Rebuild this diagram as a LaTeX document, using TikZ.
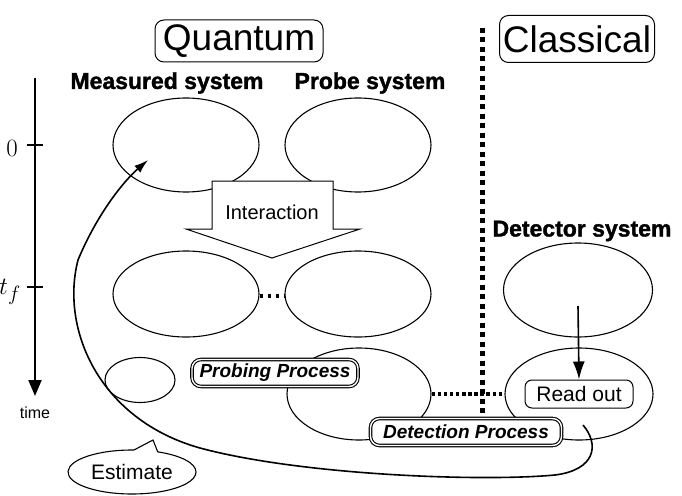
\documentclass[tikz,border=0pt]{standalone}
\usepackage{fontspec}
\setmainfont{Liberation Sans}
\newfontfamily\heavyfont[BoldFeatures={FakeBold=1.5}]{Liberation Sans}
\usetikzlibrary{shapes.geometric,shapes.callouts,arrows.meta}

\tikzset{
  sys/.style={ellipse,draw,line width=1.1pt,inner sep=0pt,minimum width=146pt,minimum height=92pt},
  realm/.style={draw,rounded corners=9pt,line width=1pt,inner sep=1pt,font=\fontsize{37}{40}\selectfont},
  syslabel/.style={font=\fontsize{23}{26}\selectfont\heavyfont\bfseries},
  process/.style={draw,fill=white,double,double distance=1.4pt,line width=1.1pt,rounded corners=9pt,
    minimum height=27pt,inner sep=2pt,font=\fontsize{19}{22}\selectfont\heavyfont\bfseries\itshape},
  flow/.style={line width=1.6pt,-{Latex[length=14pt,width=9pt]}},
  squaredots/.style={line width=#1,dash pattern=on #1 off 4.5pt},
}

\begin{document}
\begin{tikzpicture}[x=1pt,y=-1pt]
\useasboundingbox (0,0) rectangle (682,495);

% headings
\node[realm,minimum width=168pt,minimum height=42pt] (quantum) at (239,41) {Quantum};
\node[realm,minimum width=155pt,minimum height=47pt] (classical) at (577,39) {Classical};
\node[syslabel] (measlabel) at (167,83) {Measured system};
\node[syslabel] (probelabel) at (370,83) {Probe system};
\node[syslabel] (detlabel) at (582,231) {Detector system};

% time axis
\coordinate (axtop) at (35,78);
\coordinate (axend) at (35,396);
\draw[line width=2.2pt,-{Triangle[length=16pt,width=13pt]}] (axtop) -- (axend);
\draw[line width=1.8pt] (27,145) -- (43,145) (27,287) -- (43,287);
\node (zero) at (12,148) {\fontsize{30}{32}\selectfont$0$};
\node (tf) at (10,292) {\fontsize{28}{30}\selectfont$t_f$};
\node[font=\fontsize{16}{18}\selectfont\heavyfont] (time) at (35,413) {time};

% states
\node[sys,minimum height=94pt] (measA) at (186,145) {};
\node[sys,minimum height=94pt] (probeA) at (358,145) {};
\node[sys,minimum height=86pt] (measB) at (186,294) {};
\node[sys,minimum height=86pt] (probeB) at (358,294) {};
\node[sys,minimum width=149pt,minimum height=94pt] (detB) at (578,290) {};
\node[sys,minimum width=144pt] (probeC) at (359,394) {};
\node[sys,minimum width=148pt] (readC) at (579,394) {};
\node[sys,minimum width=70pt,minimum height=45pt] (estC) at (140,380) {};

% interaction
\draw[line width=1pt,fill=white] (212,181) -- (333,181) -- (333,229) -- (360,229)
  -- (272,258) -- (186,229) -- (212,229) -- cycle;
\node[font=\fontsize{20}{22}\selectfont] (interaction) at (272,212) {Interaction};

\draw[squaredots=3.5pt] ([yshift=-2pt]measB.east) -- ([yshift=-2pt]probeB.west);

% quantum / classical border
\draw[squaredots=5pt] (482,28) -- (482,416);
\draw[squaredots=3.5pt,dash pattern=on 3.5pt off 2.6pt] (probeC.east) -- (readC.west);

% read out
\node[draw,rounded corners=7pt,line width=1pt,minimum width=108pt,minimum height=28pt,
  inner sep=1pt,font=\fontsize{21}{24}\selectfont] (readout) at (579,394) {Read out};
\draw[line width=1.6pt,-{Latex[length=18pt,width=12pt]}] ([yshift=-16pt]detB.center) -- (readout.north);

% feedback
\coordinate (fbstart) at (583,425);
\draw[flow] (fbstart) .. controls (600,445) and (595,470) .. (555,475)
  .. controls (480,482) and (300,475) .. (200,448)
  .. controls (100,420) and (60,330) .. (78,260)
  .. controls (98,212) and (125,180) .. (148,160);

% processes
\node[process,minimum width=166pt] (probing) at (275,373) {Probing Process};
\node[process,minimum width=191pt] (detection) at (466,432) {Detection Process};

\node[ellipse callout,draw,line width=1.1pt,fill=white,minimum width=128pt,minimum height=44pt,
  inner sep=0pt,callout absolute pointer={(153,440)},callout pointer arc=22,
  font=\fontsize{21}{24}\selectfont] (estimate) at (132,472) {Estimate};
\end{tikzpicture}
\end{document}
